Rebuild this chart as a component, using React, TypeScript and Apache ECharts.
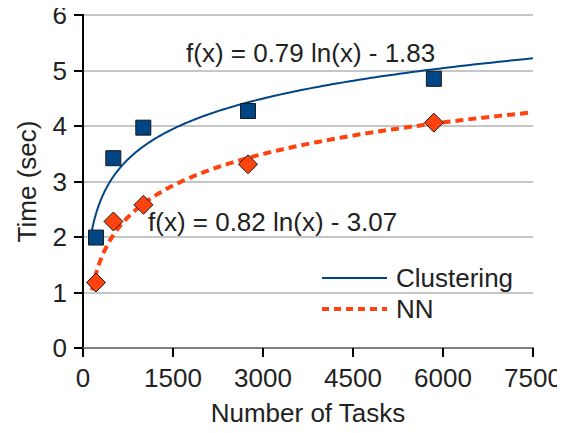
import React, { useEffect, useRef } from "react";
import * as echarts from "echarts";

const clusteringX = [217, 505, 1005, 2750, 5848];
const clusteringY = [1.99, 3.42, 3.97, 4.27, 4.85];
const nnX = [217, 507, 1008, 2750, 5848];
const nnY = [1.18, 2.28, 2.58, 3.31, 4.06];
const seriesNames = ["Clustering", "NN"];
const trendA = [0.79, 0.82];
const trendB = [-1.83, -3.07];
const trendLabels = ["f(x) = 0.79 ln(x) - 1.83", "f(x) = 0.82 ln(x) - 3.07"];
const trendStart = 150;
const trendEnd = 7500;

const BLUE = "#004586";
const ORANGE = "#ff420e";
const FONT = "'Liberation Sans', Arial, sans-serif";
const TXT = "#222";

function trend(a: number, b: number): number[][] {
  const pts: number[][] = [];
  const n = 200;
  const l0 = Math.log(trendStart);
  const l1 = Math.log(trendEnd);
  for (let i = 0; i <= n; i++) {
    const x = Math.exp(l0 + ((l1 - l0) * i) / n);
    pts.push([x, a * Math.log(x) + b]);
  }
  return pts;
}

export default function App() {
  const ref = useRef<HTMLDivElement>(null);
  useEffect(() => {
    if (!ref.current) return;
    const chart = echarts.init(ref.current, undefined, { renderer: "svg" });
    chart.setOption({
      animation: false,
      backgroundColor: "#fff",
      textStyle: { fontFamily: FONT },
      grid: { left: 83, right: 32, top: 15, bottom: 85, containLabel: false },
      xAxis: [
        {
          type: "value",
          min: 0,
          max: 7500,
          interval: 1500,
          name: "Number of Tasks",
          nameLocation: "middle",
          nameGap: 52,
          nameTextStyle: { fontSize: 26, color: TXT, fontFamily: FONT },
          axisLine: { show: true, lineStyle: { color: "#000", width: 2 } },
          axisTick: { show: true, length: 9, lineStyle: { color: "#000", width: 2 } },
          axisLabel: {
            fontSize: 26,
            color: TXT,
            margin: 17,
            fontFamily: FONT,
            formatter: (v: number) => String(v),
          },
          splitLine: { show: false },
        },
        {
          type: "value",
          position: "top",
          min: 0,
          max: 7500,
          axisLine: { show: true, lineStyle: { color: "#808080", width: 2 } },
          axisTick: { show: false },
          axisLabel: { show: false },
          splitLine: { show: false },
        },
      ],
      yAxis: [
        {
          type: "value",
          min: 0,
          max: 6,
          interval: 1,
          name: "Time (sec)",
          nameLocation: "middle",
          nameGap: 43,
          nameTextStyle: { fontSize: 26, color: TXT, fontFamily: FONT },
          axisLine: { show: true, lineStyle: { color: "#000", width: 2 } },
          axisTick: { show: true, length: 9, lineStyle: { color: "#000", width: 2 } },
          axisLabel: { fontSize: 26, color: TXT, margin: 16, fontFamily: FONT },
          splitLine: { show: true, lineStyle: { color: "#b3b3b3", width: 1.5 } },
        },
        {
          type: "value",
          position: "right",
          min: 0,
          max: 6,
          axisLine: { show: true, lineStyle: { color: "#000", width: 2 } },
          axisTick: { show: false },
          axisLabel: { show: false },
          splitLine: { show: false },
        },
      ],
      legend: {
        data: [
          { name: seriesNames[0], lineStyle: { width: 2, color: BLUE } },
          { name: seriesNames[1], lineStyle: { width: 4, color: ORANGE, type: [7, 5] } },
        ],
        orient: "vertical",
        left: 315,
        top: 260,
        itemWidth: 65,
        itemHeight: 28,
        itemGap: 5,
        itemStyle: { opacity: 0 },
        textStyle: { fontSize: 26, color: TXT, fontFamily: FONT, padding: [0, 0, 0, 4] },
      },
      graphic: [
        {
          type: "text",
          left: 186,
          top: 40,
          style: { text: trendLabels[0], fontSize: 26, fill: TXT, fontFamily: FONT },
        },
        {
          type: "text",
          left: 148,
          top: 209,
          style: { text: trendLabels[1], fontSize: 26, fill: TXT, fontFamily: FONT },
        },
      ],
      series: [
        {
          name: seriesNames[0],
          type: "line",
          data: trend(trendA[0], trendB[0]),
          symbol: "none",
          clip: true,
          itemStyle: { color: BLUE },
          lineStyle: { color: BLUE, width: 2 },
          z: 2,
        },
        {
          name: seriesNames[1],
          type: "line",
          data: trend(trendA[1], trendB[1]),
          symbol: "none",
          clip: true,
          itemStyle: { color: ORANGE },
          lineStyle: { color: ORANGE, width: 4, type: [8, 5] },
          z: 2,
        },
        {
          name: "ClusteringPts",
          type: "scatter",
          data: clusteringX.map((x, i) => [x, clusteringY[i]]),
          symbol: "rect",
          symbolSize: 15,
          itemStyle: { color: BLUE, borderColor: "#1a1a1a", borderWidth: 1, opacity: 1 },
          z: 3,
        },
        {
          name: "NNPts",
          type: "scatter",
          data: nnX.map((x, i) => [x, nnY[i]]),
          symbol: "diamond",
          symbolSize: 19,
          itemStyle: { color: ORANGE, borderColor: "#1a1a1a", borderWidth: 1, opacity: 1 },
          z: 3,
        },
      ],
    });
    return () => chart.dispose();
  }, []);
  return <div ref={ref} style={{ width: 565, height: 433, margin: -8 }} />;
}
